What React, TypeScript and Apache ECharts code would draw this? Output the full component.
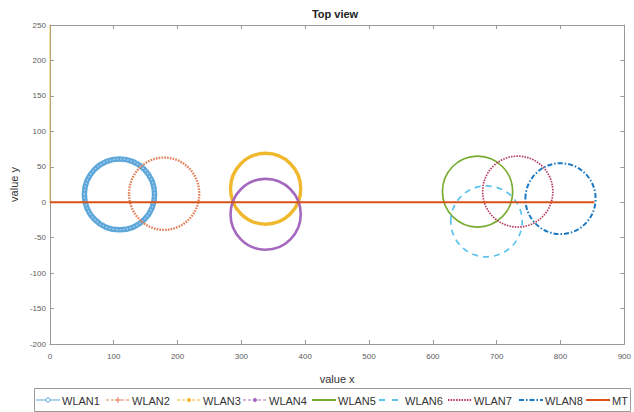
import React, { useEffect, useRef } from "react";
import * as echarts from "echarts";

// ---- data ----
const wlanNames = ["WLAN1", "WLAN2", "WLAN3", "WLAN4", "WLAN5", "WLAN6", "WLAN7", "WLAN8"];
const centerX = [109, 179, 338, 338, 670, 684, 733, 800];
const centerY = [11, 12, 19, -17, 15, -27, 15, 5];
const radiusX = [55, 55, 55, 55, 55, 56, 55, 55];
const radiusY = [50, 51, 50, 50, 50, 50, 50, 50];
const mtName = "MT";
const mtX = [0, 853];
const mtY = [0, 0];
const edgeX = [0, 0];
const edgeY = [0, 250];
const xMin = 0, xMax = 900, xStep = 100;
const yMin = -200, yMax = 250, yStep = 50;

// ---- styles ----
const ringStyles = [
  { stroke: "#5ea7da", lineWidth: 5.5, lineDash: null as any, overlay: true },
  { stroke: "#e3825a", lineWidth: 2.4, lineDash: [1.6, 1.2] },
  { stroke: "#f0b82c", lineWidth: 3.4, lineDash: null },
  { stroke: "#a468bf", lineWidth: 2.6, lineDash: null },
  { stroke: "#77AC30", lineWidth: 1.7, lineDash: null },
  { stroke: "#5cc3ef", lineWidth: 1.7, lineDash: [6, 5] },
  { stroke: "#b43a58", lineWidth: 1.7, lineDash: [1.5, 1.2] },
  { stroke: "#1a78c2", lineWidth: 2, lineDash: [5, 2, 1.5, 2] },
];
const legendLineX = [36, 106, 177, 243, 312, 379, 448, 519, 586];
const legendStyles = [
  { stroke: "#5ea7da", lineWidth: 1, lineDash: null as any, marker: "o" },
  { stroke: "#e3825a", lineWidth: 1, lineDash: [3, 2], marker: "+" },
  { stroke: "#f0b82c", lineWidth: 1, lineDash: [3, 2], marker: "*" },
  { stroke: "#a468bf", lineWidth: 1, lineDash: [3, 2], marker: "*" },
  { stroke: "#77AC30", lineWidth: 2, lineDash: null, marker: "" },
  { stroke: "#5cc3ef", lineWidth: 2, lineDash: [6, 7], marker: "" },
  { stroke: "#b43a58", lineWidth: 2, lineDash: [1.5, 1.2], marker: "" },
  { stroke: "#1a78c2", lineWidth: 2, lineDash: [5, 2, 1.5, 2], marker: "" },
  { stroke: "#D95319", lineWidth: 2, lineDash: null, marker: "" },
];

const FONT = "Liberation Sans, Arial, sans-serif";

export default function App() {
  const ref = useRef<HTMLDivElement>(null);
  useEffect(() => {
    if (!ref.current) return;
    const chart = echarts.init(ref.current, null, { renderer: "svg" });

    const ringSeries = wlanNames.map((name, i) => {
      const st = ringStyles[i];
      return {
        type: "custom",
        name,
        xAxisIndex: 0,
        yAxisIndex: 0,
        data: [[centerX[i], centerY[i], radiusX[i], radiusY[i]]],
        renderItem: (params: any, api: any) => {
          const c = api.coord([api.value(0), api.value(1)]);
          const s = api.size([api.value(2), api.value(3)]);
          const shape = { cx: c[0], cy: c[1], rx: s[0], ry: s[1] };
          const children: any[] = [
            {
              type: "ellipse",
              shape,
              style: { fill: "none", stroke: st.stroke, lineWidth: st.lineWidth, lineDash: st.lineDash },
            },
          ];
          if ((st as any).overlay) {
            children.push({
              type: "ellipse",
              shape,
              style: { fill: "none", stroke: "rgba(255,255,255,0.55)", lineWidth: 1.2, lineDash: [1.5, 2] },
            });
          }
          return { type: "group", children };
        },
        z: 2,
      };
    });

    const allNames = [...wlanNames, mtName];
    const legendGraphics: any[] = [
      {
        type: "rect",
        shape: { x: 34.5, y: 388.5, width: 596, height: 23 },
        style: { fill: "#fff", stroke: "#9a9a9a", lineWidth: 1 },
        z: 10,
      },
    ];
    allNames.forEach((name, i) => {
      const st = legendStyles[i];
      const x0 = legendLineX[i];
      const yc = 400;
      legendGraphics.push({
        type: "line",
        shape: { x1: x0, y1: yc, x2: x0 + 24, y2: yc },
        style: { stroke: st.stroke, lineWidth: st.lineWidth, lineDash: st.lineDash },
        z: 11,
      });
      if (st.marker === "o") {
        legendGraphics.push({
          type: "circle",
          shape: { cx: x0 + 12, cy: yc, r: 2.2 },
          style: { fill: "#fff", stroke: st.stroke, lineWidth: 1 },
          z: 12,
        });
      } else if (st.marker === "+") {
        legendGraphics.push({
          type: "line",
          shape: { x1: x0 + 12, y1: yc - 3, x2: x0 + 12, y2: yc + 3 },
          style: { stroke: st.stroke, lineWidth: 1 },
          z: 12,
        });
        legendGraphics.push({
          type: "line",
          shape: { x1: x0 + 9, y1: yc, x2: x0 + 15, y2: yc },
          style: { stroke: st.stroke, lineWidth: 1 },
          z: 12,
        });
      } else if (st.marker === "*") {
        legendGraphics.push({
          type: "circle",
          shape: { cx: x0 + 12, cy: yc, r: 1.8 },
          style: { fill: st.stroke, stroke: st.stroke, lineWidth: 0.8 },
          z: 12,
        });
      }
      legendGraphics.push({
        type: "text",
        x: x0 + 26,
        y: yc + 0.5,
        style: {
          text: name,
          font: `11px ${FONT}`,
          fill: "#333",
          textAlign: "left",
          textVerticalAlign: "middle",
        },
        z: 12,
      });
    });

    const axisCommon = {
      type: "value",
      axisLine: { show: true, onZero: false, lineStyle: { color: "#9a9a9a", width: 1 } },
      axisTick: { show: true, inside: true, length: 4, lineStyle: { color: "#9a9a9a" } },
      splitLine: { show: false },
    };

    chart.setOption({
      animation: false,
      backgroundColor: "#fff",
      grid: { left: 42, top: 25, width: 586, height: 319, containLabel: false },
      xAxis: [
        {
          ...axisCommon,
          position: "bottom",
          min: xMin,
          max: xMax,
          interval: xStep,
          name: "value x",
          nameLocation: "middle",
          nameGap: 29,
          nameTextStyle: { fontSize: 11, color: "#333", fontFamily: FONT },
          axisLabel: { fontSize: 8, color: "#5a5a5a", fontFamily: FONT, margin: 8 },
        },
        {
          ...axisCommon,
          position: "top",
          min: xMin,
          max: xMax,
          interval: xStep,
          axisLabel: { show: false },
        },
      ],
      yAxis: [
        {
          ...axisCommon,
          position: "left",
          min: yMin,
          max: yMax,
          interval: yStep,
          name: "value y",
          nameLocation: "middle",
          nameGap: 25,
          nameTextStyle: { fontSize: 11, color: "#333", fontFamily: FONT },
          axisLabel: { fontSize: 8, color: "#5a5a5a", fontFamily: FONT, margin: 4 },
        },
        {
          ...axisCommon,
          position: "right",
          min: yMin,
          max: yMax,
          interval: yStep,
          axisLabel: { show: false },
        },
      ],
      graphic: [
        {
          type: "text",
          x: 335,
          y: 14,
          style: {
            text: "Top view",
            font: `bold 11px ${FONT}`,
            fill: "#222",
            textAlign: "center",
            textVerticalAlign: "middle",
          },
        },
        ...legendGraphics,
      ],
      series: [
        {
          type: "line",
          name: "edge",
          xAxisIndex: 0,
          yAxisIndex: 0,
          data: edgeX.map((x, i) => [x, edgeY[i]]),
          symbol: "none",
          lineStyle: { color: "#EDB120", width: 1.2, opacity: 0.55 },
          z: 1,
        },
        ...ringSeries,
        {
          type: "line",
          name: mtName,
          xAxisIndex: 0,
          yAxisIndex: 0,
          data: mtX.map((x, i) => [x, mtY[i]]),
          symbol: "none",
          lineStyle: { color: "#D95319", width: 2 },
          z: 5,
        },
      ],
    });
    return () => chart.dispose();
  }, []);
  return (
    <div
      ref={ref}
      style={{ position: "fixed", left: 0, top: 0, width: 634, height: 412, background: "#fff" }}
    />
  );
}
